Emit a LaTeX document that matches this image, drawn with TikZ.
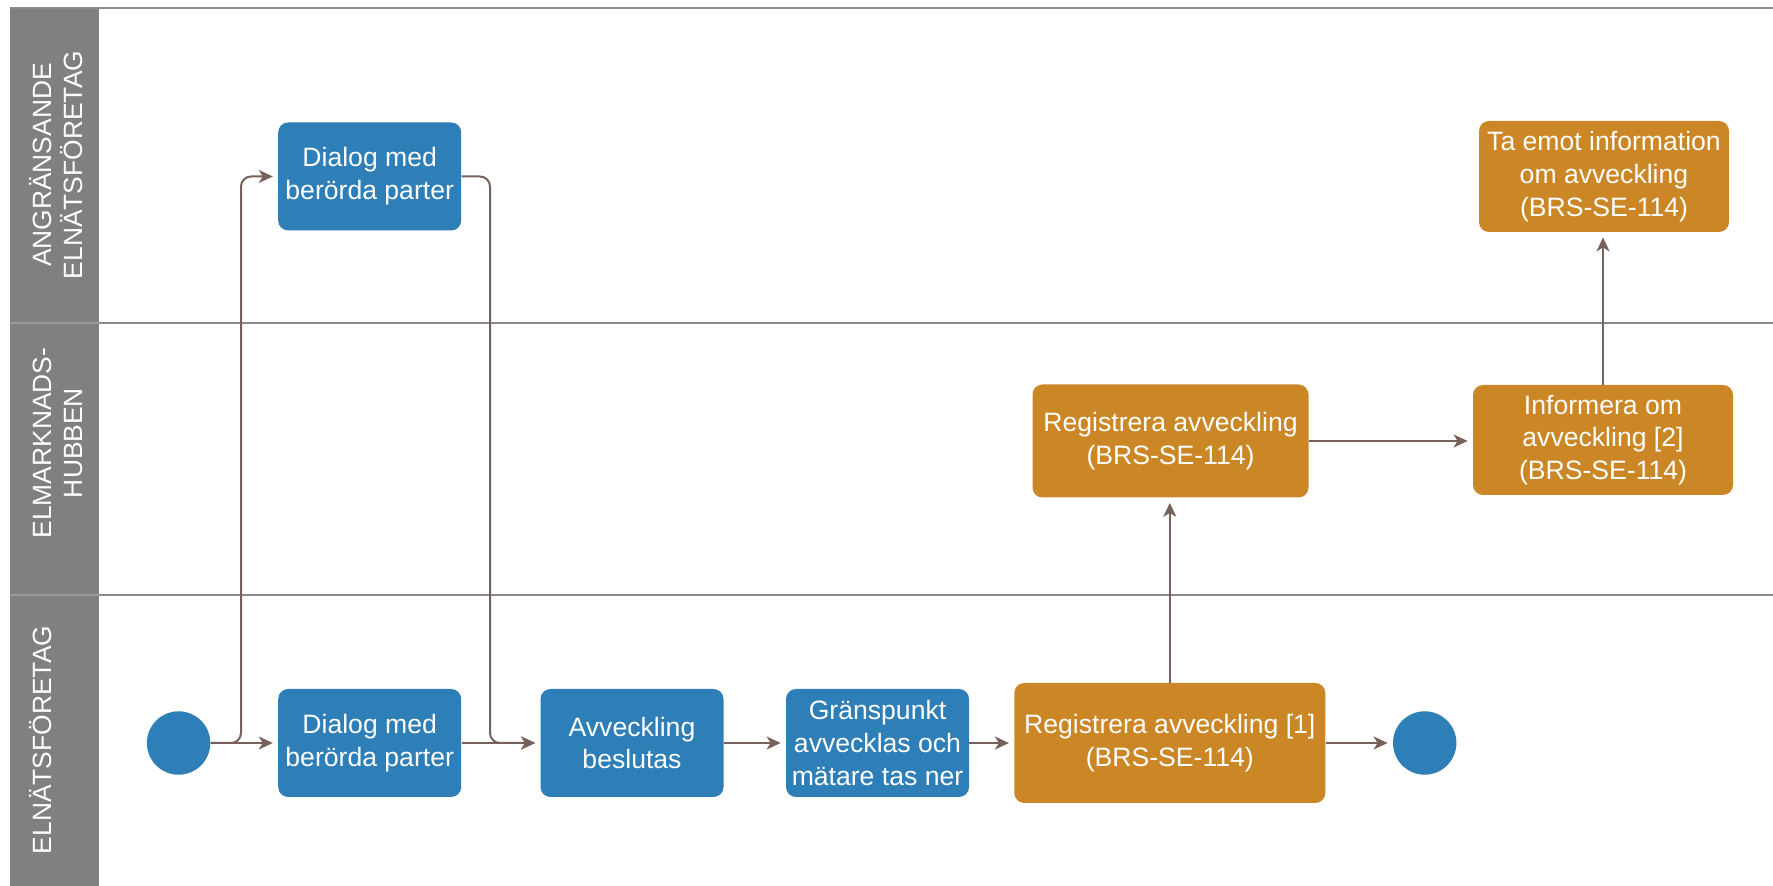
\documentclass[tikz,border=0pt]{standalone}
\usepackage{fontspec}
\setmainfont{Liberation Sans}
\usetikzlibrary{arrows.meta}
\definecolor{boxblue}{HTML}{2E7EB7}
\definecolor{boxorange}{HTML}{CB8725}
\definecolor{arr}{HTML}{77625B}
\definecolor{lanegray}{HTML}{808080}
\definecolor{lineg}{HTML}{8A8A8A}
\begin{document}
\begin{tikzpicture}[x=0.5pt,y=-0.5pt,
  proc/.style={rectangle, rounded corners=5pt, draw=none, text=white, align=center,
    font=\fontsize{13.3}{16.4}\selectfont, inner sep=0pt},
  bluebox/.style={proc, fill=boxblue},
  orangebox/.style={proc, fill=boxorange},
  startend/.style={circle, fill=boxblue, draw=none, minimum size=31.7pt, inner sep=0pt},
  flow/.style={draw=arr, line width=1pt, -{Stealth[length=7pt,width=6.5pt,inset=2pt]},
    shorten >=2.5pt, rounded corners=5pt},
  lanetxt/.style={rotate=90, anchor=base, text=white, font=\fontsize{13.2}{15}\selectfont, inner sep=0pt},
  laneline/.style={draw=lineg, line width=1.4pt}
]
\useasboundingbox (0,0) rectangle (1773,886);
\fill[white] (0,0) rectangle (1773,886);
% lane header column
\fill[lanegray] (9.5,8) rectangle (99,886);
\draw[laneline] (9.5,8) -- (1773,8);
\draw[laneline] (99,323) -- (1773,323);
\draw[laneline] (99,595) -- (1773,595);
\draw[lanegray!80!white, line width=1pt] (9.5,323) -- (99,323);
\draw[lanegray!80!white, line width=1pt] (9.5,595) -- (99,595);
% lane labels
\node[lanetxt] (l1a) at (51,165) {ANGRÄNSANDE};
\node[lanetxt] (l1b) at (82,165) {ELNÄTSFÖRETAG};
\node[lanetxt] (l2a) at (51,443) {ELMARKNADS-};
\node[lanetxt] (l2b) at (82,443) {HUBBEN};
\node[lanetxt] (l3a) at (51,740) {ELNÄTSFÖRETAG};
% nodes
\node[startend] (start) at (178.6,743) {};
\node[bluebox, minimum width=91.5pt, minimum height=54pt] (d1) at (369.7,743) {Dialog med\\berörda parter};
\node[bluebox, minimum width=91.5pt, minimum height=54pt] (d2) at (369.7,176.5) {Dialog med\\berörda parter};
\node[bluebox, minimum width=91.5pt, minimum height=54pt] (av) at (632,743) {Avveckling\\beslutas};
\node[bluebox, minimum width=91.5pt, minimum height=54pt] (gp) at (877.5,743) {Gränspunkt\\avvecklas och\\mätare tas ner};
\node[orangebox, minimum width=155.5pt, minimum height=60pt] (r1) at (1169.8,743) {Registrera avveckling [1]\\(BRS-SE-114)};
\node[startend] (end) at (1424.7,743) {};
\node[orangebox, minimum width=138pt, minimum height=56.5pt] (rh) at (1170.5,441) {Registrera avveckling\\(BRS-SE-114)};
\node[orangebox, minimum width=130pt, minimum height=55pt] (inf) at (1603,440) {Informera om\\avveckling [2]\\(BRS-SE-114)};
\node[orangebox, minimum width=125pt, minimum height=55.5pt] (ta) at (1604,176.5) {Ta emot information\\om avveckling\\(BRS-SE-114)};
% connectors
\coordinate (b1) at (241,743);
\coordinate (b2) at (490,743);
\draw[flow] (start.east) -- (d1.west);
\draw[flow] (start.east) -- (b1) |- (d2.west);
\draw[flow] (d2.east) -| (b2) -- (av.west);
\draw[flow] (d1.east) -- (av.west);
\draw[flow] (av.east) -- (gp.west);
\draw[flow] (gp.east) -- (r1.west);
\draw[flow] (r1.east) -- (end.west);
\draw[flow] (r1.north) -- (r1.north |- rh.south);
\draw[flow] (rh.east) -- (rh.east -| inf.west);
\draw[flow] (inf.north) -- (inf.north |- ta.south);
\end{tikzpicture}
\end{document}
